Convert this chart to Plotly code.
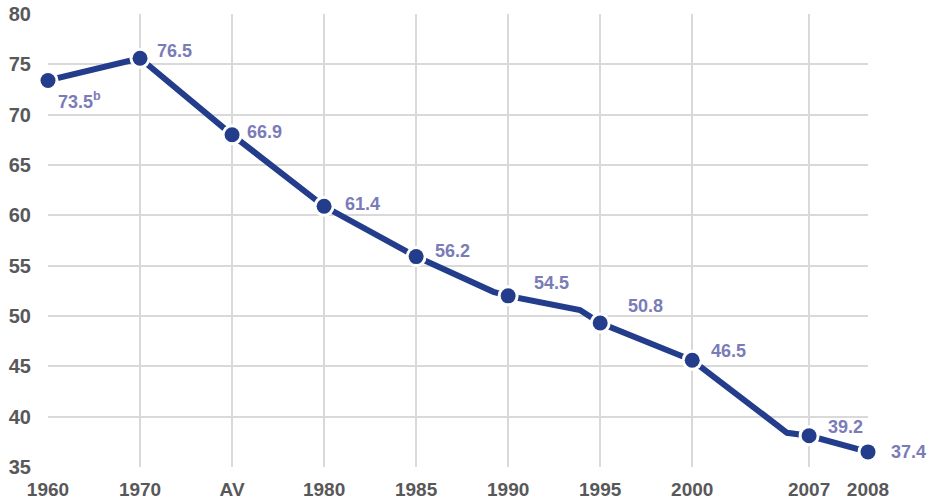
import plotly.graph_objects as go

# ---- data ----
tick_labels = ["1960", "1970", "AV", "1980", "1985", "1990", "1995", "2000", "2007", "2008"]
tick_pos = [0, 1, 2, 3, 4, 5, 6, 7, 8.27, 8.91]          # axis scale positions of the categories
point_values = [73.4, 75.6, 68.0, 60.9, 55.9, 52.0, 49.3, 45.6, 38.1, 36.5]
point_labels = ["73.5<sup>b</sup>", "76.5", "66.9", "61.4", "56.2", "54.5", "50.8", "46.5", "39.2", "37.4"]

# full line path (includes unmarked intermediate observations)
path_x = [0, 1, 2, 3, 4, 4.84, 5, 5.78, 6, 6.76, 7, 8.03, 8.27, 8.91]
path_y = [73.4, 75.6, 68.0, 60.9, 55.9, 52.4, 52.0, 50.6, 49.3, 46.6, 45.6, 38.4, 38.1, 36.5]

y_ticks = [35, 40, 45, 50, 55, 60, 65, 70, 75, 80]

# ---- style ----
LINE = "#233d8c"
LABEL = "#7a7cb8"
TICK = "#58585a"
GRID = "#d9d9d9"
FONT = "Liberation Sans, Arial, sans-serif"
label_shift = [(8, -20), (15, 7), (13, 3), (19, 2), (17, 6), (24, 13), (26, 17), (17, 9), (17, 9), (21, 0)]

fig = go.Figure()
fig.add_trace(go.Scatter(x=path_x, y=path_y, mode="lines",
                         line=dict(color=LINE, width=6), hoverinfo="skip", cliponaxis=False))
fig.add_trace(go.Scatter(x=tick_pos, y=point_values, mode="markers",
                         marker=dict(color="white", size=21), hoverinfo="skip", cliponaxis=False))
fig.add_trace(go.Scatter(x=tick_pos, y=point_values, mode="markers",
                         marker=dict(color=LINE, size=15), cliponaxis=False))

for x, y, t, (dx, dy) in zip(tick_pos, point_values, point_labels, label_shift):
    fig.add_annotation(x=x, y=y, text=t, showarrow=False, xanchor="left", yanchor="middle",
                       xshift=dx, yshift=dy,
                       font=dict(family=FONT, size=18, color=LABEL, weight="bold"))

fig.update_layout(
    width=932, height=501,
    margin=dict(l=48, r=64, t=14, b=34, autoexpand=False),
    paper_bgcolor="white", plot_bgcolor="white",
    showlegend=False,
    xaxis=dict(range=[0, 8.91], tickvals=tick_pos, ticktext=tick_labels, automargin=False,
               showgrid=True, gridcolor=GRID, gridwidth=2, zeroline=False,
               showline=False, ticks="", ticklabelstandoff=9,
               tickfont=dict(family=FONT, size=19, color=TICK, weight="bold")),
    yaxis=dict(range=[35, 80], tickvals=y_ticks, automargin=False,
               showgrid=True, gridcolor=GRID, gridwidth=2, zeroline=False,
               showline=False, ticks="", ticklabelstandoff=16,
               tickfont=dict(family=FONT, size=20, color=TICK, weight="bold")),
)

fig.write_html("out.html", config={"displayModeBar": False},
               post_script="document.body.style.margin='0';")
